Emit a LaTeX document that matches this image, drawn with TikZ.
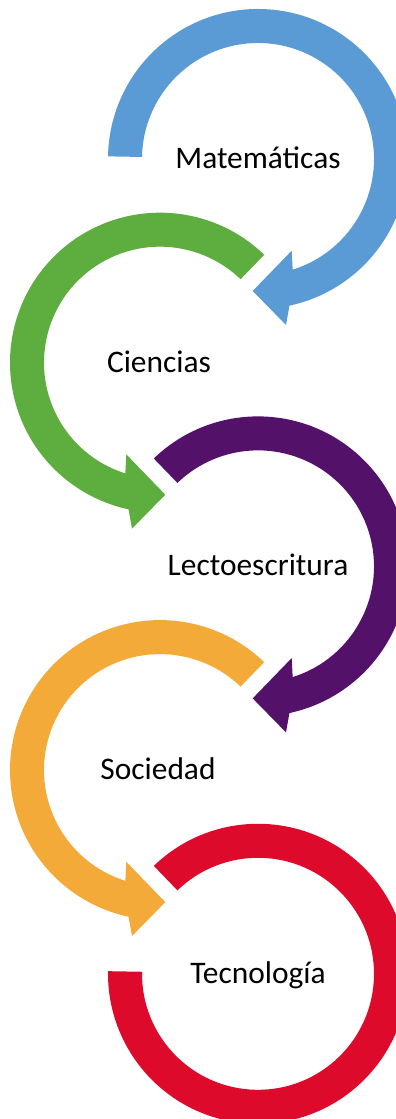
\documentclass[tikz,border=0pt]{standalone}
\usepackage{fontspec}
\setmainfont{Carlito}
\definecolor{cblue}{HTML}{5B9BD5}
\definecolor{cgreen}{HTML}{5DAE3E}
\definecolor{cpurple}{HTML}{541169}
\definecolor{corange}{HTML}{F4AA39}
\definecolor{cred}{HTML}{DD0A2B}
% right-hand circular arrow: #1 colour, #2 centre, #3 start angle
\newcommand\myRightArc[3]{%
  \fill[#1,shift={#2}] (#3:150) arc[start angle=#3,end angle=-77.9,radius=150]
    -- (28,-166) -- (-5.3,-132) -- (33.7,-91.7)
    -- (-72.6:116) arc[start angle=-72.6,end angle=#3,radius=116] -- cycle;}
% left-hand (mirrored) circular arrow
\newcommand\myLeftArc[3]{%
  \fill[#1,shift={#2},xscale=-1] (#3:150) arc[start angle=#3,end angle=-77.9,radius=150]
    -- (28,-166) -- (-5.3,-132) -- (33.7,-91.7)
    -- (-72.6:116) arc[start angle=-72.6,end angle=#3,radius=116] -- cycle;}
\begin{document}
\begin{tikzpicture}[x=1pt,y=1pt,
  lbl/.style={anchor=base,inner sep=0pt,font=\fontsize{31.4}{37}\selectfont,text=black}]
\useasboundingbox (0,0) rectangle (396,1119);
\clip (0,0) rectangle (396,1119);
\myRightArc{cblue}{(258,960)}{179}
\myLeftArc{cgreen}{(160,756.3)}{134}
\myRightArc{cpurple}{(258,552.6)}{134}
\myLeftArc{corange}{(160,348.9)}{134}
\fill[cred,shift={(258,145.2)}] (134:150) arc[start angle=134,end angle=-181,radius=150]
  -- (-181:116) arc[start angle=-181,end angle=134,radius=116] -- cycle;
\node[lbl] (t1) at (258,950.5) {Matemáticas};
\node[lbl] (t2) at (159,746.8) {Ciencias};
\node[lbl] (t3) at (258,543.1) {Lectoescritura};
\node[lbl] (t4) at (158,339.4) {Sociedad};
\node[lbl] (t5) at (258,135.7) {Tecnología};
\end{tikzpicture}
\end{document}
